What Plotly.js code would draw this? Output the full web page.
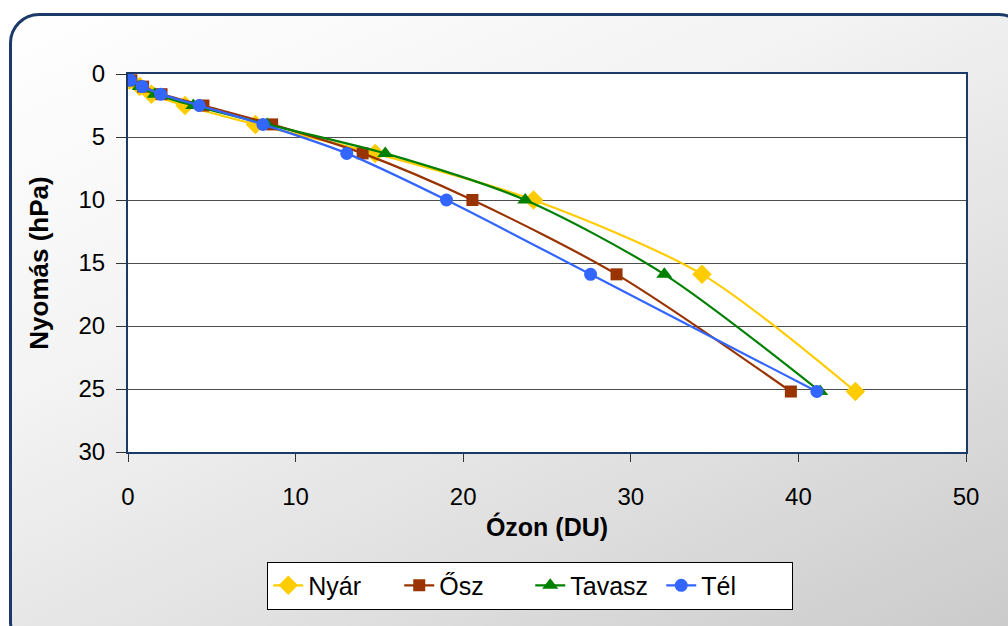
<!DOCTYPE html>
<html>
<head>
<meta charset="utf-8">
<script src="https://cdn.plot.ly/plotly-3.0.1.min.js"></script>
<style>
html,body{margin:0;padding:0;width:1008px;height:626px;overflow:hidden;background:#ffffff;}
#frame{position:absolute;left:9px;top:13px;width:1020px;height:640px;box-sizing:border-box;
 border:3px solid #1b3a68;border-radius:30px;
 background:linear-gradient(155deg,#ffffff 0%,#f3f3f3 35%,#dedede 70%,#c9c9c9 100%);}
#chart{position:absolute;left:0;top:0;width:1008px;height:626px;}
</style>
</head>
<body>
<div id="frame"></div>
<div id="chart"></div>
<script>
// Pressure levels (hPa)
const pressure = [0.5, 1, 1.6, 2.5, 4, 6.3, 10, 15.9, 25.2];
// Ozone (DU) per season
const nyar   = [0.1, 0.7, 1.4, 3.4, 7.6, 14.75, 24.2, 34.25, 43.4];
const osz    = [0.2, 0.9, 2.0, 4.5, 8.6, 14.0, 20.55, 29.15, 39.55];
const tavasz = [0.1, 0.7, 1.6, 3.9, 8.3, 15.35, 23.7, 32.0, 41.3];
const tel    = [0.15, 0.85, 1.95, 4.25, 8.05, 13.05, 19.0, 27.6, 41.1];
const seriesNames = ['Nyár', 'Ősz', 'Tavasz', 'Tél'];
const xTicks = [0, 10, 20, 30, 40, 50];
const yTicks = [0, 5, 10, 15, 20, 25, 30];

const styles = [
  {color:'#FFCC00', symbol:'diamond', size:15},
  {color:'#993300', symbol:'square', size:12},
  {color:'#008000', symbol:'triangle-up', size:14},
  {color:'#3366FF', symbol:'circle', size:13}
];
const data = [nyar, osz, tavasz, tel].map((xs, i) => ({
  type:'scatter', mode:'lines+markers', name: seriesNames[i],
  x: xs, y: pressure,
  line:{color:styles[i].color, width:2.2, shape:'spline', smoothing:0.8},
  marker:{color:styles[i].color, symbol:styles[i].symbol, size:styles[i].size, line:{width:0}}
}));

const font = 'Liberation Sans, Arial, sans-serif';
const layout = {
  width:1008, height:626,
  paper_bgcolor:'rgba(0,0,0,0)', plot_bgcolor:'#ffffff',
  margin:{l:128, r:42, t:74, b:174},
  showlegend:true,
  font:{family:font, color:'#000', size:24},
  xaxis:{range:[0,50], tickvals:xTicks, ticks:'outside', ticklen:8, tickcolor:'#333',
    showline:true, linecolor:'#1b3a68', linewidth:2, mirror:true,
    showgrid:false, zeroline:false, tickfont:{size:24, family:font}, ticklabelstandoff:14,
    title:{text:'<b>Ózon (DU)</b>', font:{size:25, family:font}, standoff:10}},
  yaxis:{range:[30,0], tickvals:yTicks, ticks:'outside', ticklen:10, tickcolor:'#333',
    showline:true, linecolor:'#1b3a68', linewidth:2, mirror:true,
    showgrid:true, gridcolor:'#4d4d4d', gridwidth:1, zeroline:false,
    tickfont:{size:24, family:font}, ticklabelstandoff:6,
    title:{text:'<b>Nyomás (hPa)</b>', font:{size:26, family:font}, standoff:22}},
  legend:{orientation:'h', x:0.48, xanchor:'center', y:-0.29, yanchor:'top',
    bgcolor:'#ffffff', bordercolor:'#000', borderwidth:1,
    font:{size:25, family:font}, itemwidth:30, entrywidth:86, tracegroupgap:0}
};
Plotly.newPlot('chart', data, layout, {displayModeBar:false, staticPlot:true});
</script>
</body>
</html>
